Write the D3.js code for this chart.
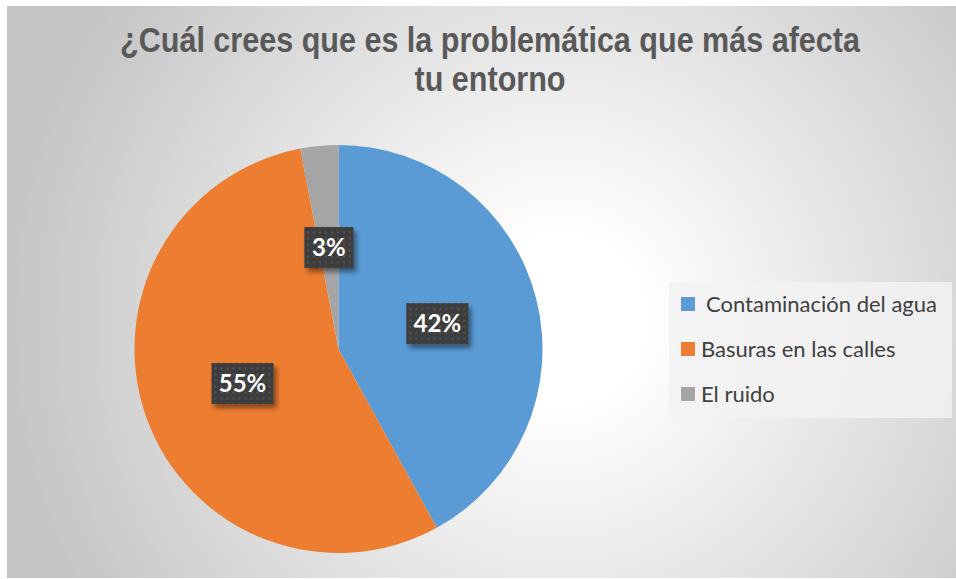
<!DOCTYPE html>
<html>
<head>
<meta charset="utf-8">
<script src="https://cdn.jsdelivr.net/npm/d3@7"></script>
<style>
  html, body { margin: 0; padding: 0; background: #fff; }
  svg { display: block; }
</style>
</head>
<body>
<script>
var categories = ["Contaminación del agua", "Basuras en las calles", "El ruido"];
var values = [42, 55, 3];
var colors = ["#5b9bd5", "#ed7d31", "#a5a5a5"];
var titleLines = ["¿Cuál crees que es la problemática que más afecta", "tu entorno"];

var width = 956, height = 579;

var svg = d3.select("body").append("svg")
    .attr("width", width)
    .attr("height", height);

var defs = svg.append("defs");

// background gradient, white in the middle, gray at the edges
var grad = defs.append("radialGradient")
    .attr("id", "bg")
    .attr("gradientUnits", "userSpaceOnUse")
    .attr("cx", 560).attr("cy", 320).attr("r", 560);
grad.append("stop").attr("offset", "0.15").attr("stop-color", "#ffffff");
grad.append("stop").attr("offset", "1").attr("stop-color", "#c4c4c4");

// dotted texture for the data labels
var pat = defs.append("pattern")
    .attr("id", "dots")
    .attr("patternUnits", "userSpaceOnUse")
    .attr("width", 6).attr("height", 6);
pat.append("rect").attr("width", 6).attr("height", 6).attr("fill", "#3d3d3d");
pat.append("rect").attr("x", 2).attr("y", 2).attr("width", 2).attr("height", 2).attr("fill", "#555555");

var shadow = defs.append("filter").attr("id", "shadow")
    .attr("x", "-30%").attr("y", "-30%").attr("width", "170%").attr("height", "170%");
shadow.append("feDropShadow")
    .attr("dx", 3).attr("dy", 4).attr("stdDeviation", 2.5)
    .attr("flood-color", "#000").attr("flood-opacity", 0.45);

svg.append("rect")
    .attr("x", 7).attr("y", 6)
    .attr("width", width - 7).attr("height", height - 7)
    .attr("fill", "url(#bg)");

// title (narrow bold look: squeeze Liberation Sans horizontally)
var titleG = svg.append("g");
var titleTexts = titleG.selectAll("text")
    .data(titleLines)
    .enter()
    .append("text")
    .attr("x", 0)
    .attr("y", function (d, i) { return 52 + i * 39; })
    .attr("text-anchor", "middle")
    .style("font-family", "'Liberation Sans', Arial, sans-serif")
    .style("font-weight", "bold")
    .style("font-size", "36px")
    .style("fill", "#595959")
    .text(function (d) { return d; });
var firstLen = titleTexts.node().getComputedTextLength();
var sx = 740 / firstLen;
titleG.attr("transform", "translate(490,0) scale(" + sx + ",1)");

// pie
var cx = 338.5, cy = 349, r = 204;
var pie = d3.pie().sort(null).value(function (d) { return d; });
var arc = d3.arc().innerRadius(0).outerRadius(r);
var arcs = pie(values);

var g = svg.append("g").attr("transform", "translate(" + cx + "," + cy + ")");

g.selectAll("path")
    .data(arcs)
    .enter()
    .append("path")
    .attr("d", arc)
    .attr("fill", function (d, i) { return colors[i]; });

// data labels
var labelArc = d3.arc().innerRadius(r * 0.5).outerRadius(r * 0.5);
var fmt = function (v) { return Math.round(v) + "%"; };
var boxW = [62, 62, 49], boxH = 41;

var labels = g.selectAll(".lbl")
    .data(arcs)
    .enter()
    .append("g")
    .attr("class", "lbl")
    .attr("transform", function (d) {
        var c = labelArc.centroid(d);
        return "translate(" + c[0] + "," + c[1] + ")";
    });

labels.append("rect")
    .attr("x", function (d, i) { return -boxW[i] / 2; })
    .attr("y", -boxH / 2)
    .attr("width", function (d, i) { return boxW[i]; })
    .attr("height", boxH)
    .attr("fill", "url(#dots)")
    .attr("filter", "url(#shadow)");

labels.append("text")
    .attr("text-anchor", "middle")
    .attr("dy", "0.36em")
    .style("font-family", "Lato, 'Open Sans', sans-serif")
    .style("font-weight", "bold")
    .style("font-size", "24px")
    .style("fill", "#ffffff")
    .text(function (d) { return fmt(d.data); });

// legend
var legend = svg.append("g");
legend.append("rect")
    .attr("x", 669).attr("y", 282)
    .attr("width", 283).attr("height", 136)
    .attr("fill", "#f2f2f2").attr("fill-opacity", 0.85);

var items = legend.selectAll(".item")
    .data(categories)
    .enter()
    .append("g")
    .attr("class", "item")
    .attr("transform", function (d, i) { return "translate(681," + (304 + i * 45) + ")"; });

items.append("rect")
    .attr("x", 0).attr("y", -7)
    .attr("width", 14).attr("height", 14)
    .attr("fill", function (d, i) { return colors[i]; });

items.append("text")
    .attr("x", function (d, i) { return i === 0 ? 25 : 20; })
    .attr("dy", "0.35em")
    .style("font-family", "Lato, 'Open Sans', sans-serif")
    .style("font-size", "22px")
    .style("fill", "#404040")
    .text(function (d) { return d; });
</script>
</body>
</html>
